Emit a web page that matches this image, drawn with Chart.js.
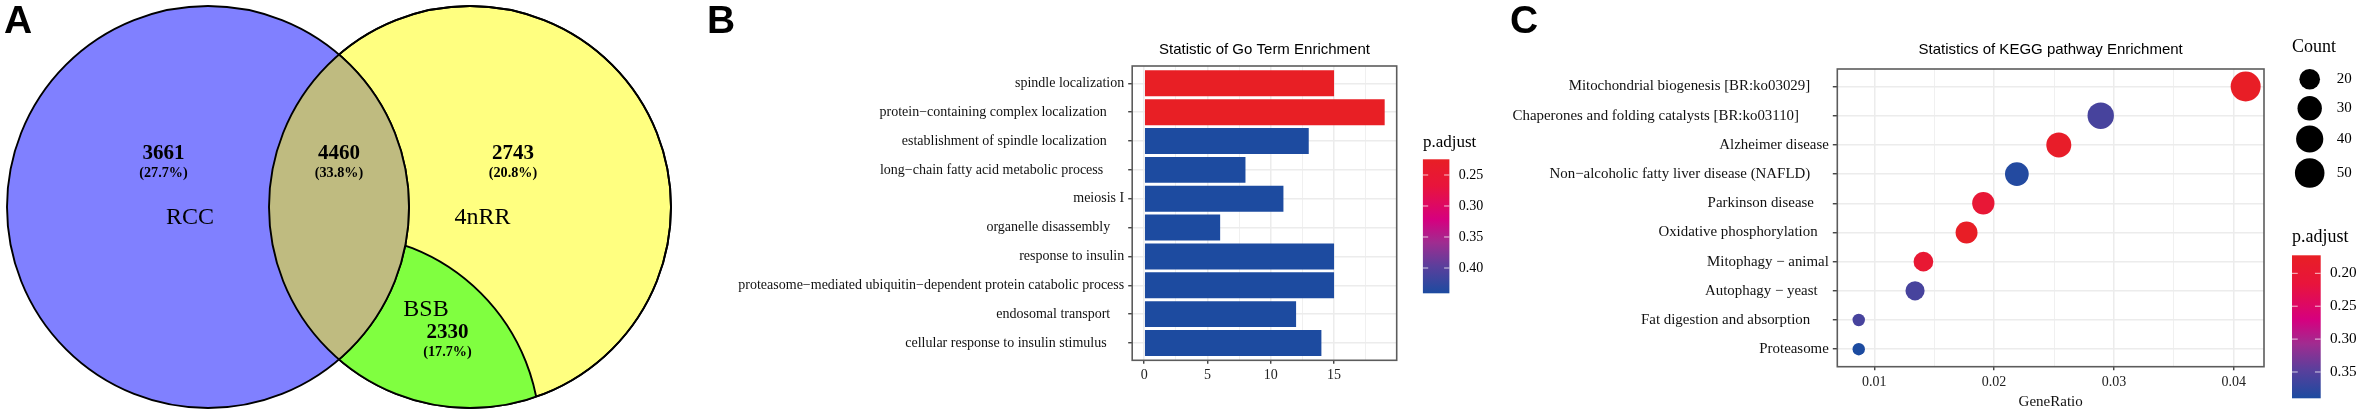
<!DOCTYPE html>
<html lang="en">
<head>
<meta charset="UTF-8">
<title>RCC, 4nRR and BSB enrichment</title>
<script src="https://cdn.jsdelivr.net/npm/chart.js@4"></script>
<style>
    body { margin: 0; background: #fff; width: 2360px; height: 420px; overflow: hidden; position: relative; }
    canvas { position: absolute; top: 0; left: 0; }
    .panel { position: absolute; top: 0; height: 420px; }
    .letter { position: absolute; top: -3px; font: bold 39px "Liberation Sans", Arial, sans-serif; color: #000; line-height: 45px; z-index: 2; }
</style>
</head>
<body>
<div class="letter" style="left:4px">A</div>
<div class="letter" style="left:707px">B</div>
<div class="letter" style="left:1510px">C</div>
<div class="panel" style="left:0;width:690px"><canvas id="venn" width="690" height="420"></canvas></div>
<div class="panel" style="left:700px;width:800px"><canvas id="go" width="800" height="420"></canvas></div>
<div class="panel" style="left:1500px;width:860px"><canvas id="kegg" width="860" height="420"></canvas></div>

<script>
// Panel A
const vennNames = ["RCC", "4nRR", "BSB"];
const vennRegions = ["RCC only", "RCC and 4nRR", "4nRR only", "BSB"];
const vennCounts = [3661, 4460, 2743, 2330];
const vennPercents = ["27.7%", "33.8%", "20.8%", "17.7%"];

// Panel B
const goTerms = [
  "spindle localization",
  "protein−containing complex localization",
  "establishment of spindle localization",
  "long−chain fatty acid metabolic process",
  "meiosis I",
  "organelle disassembly",
  "response to insulin",
  "proteasome−mediated ubiquitin−dependent protein catabolic process",
  "endosomal transport",
  "cellular response to insulin stimulus"
];
const goCounts = [15, 19, 13, 8, 11, 6, 15, 15, 12, 14];
const goPadjust = [0.225, 0.225, 0.44, 0.44, 0.44, 0.44, 0.44, 0.44, 0.44, 0.44];
const goXTicks = [0, 5, 10, 15];
const goXMinor = [2.5, 7.5, 12.5, 17.5];
const goPTicks = [0.25, 0.30, 0.35, 0.40];

// Panel C
const keggTerms = [
  "Mitochondrial biogenesis [BR:ko03029]",
  "Chaperones and folding catalysts [BR:ko03110]",
  "Alzheimer disease",
  "Non−alcoholic fatty liver disease (NAFLD)",
  "Parkinson disease",
  "Oxidative phosphorylation",
  "Mitophagy − animal",
  "Autophagy − yeast",
  "Fat digestion and absorption",
  "Proteasome"
];
const keggRatio = [0.041, 0.0289, 0.0254, 0.0219, 0.0191, 0.0177, 0.0141, 0.0134, 0.0087, 0.0087];
const keggCount = [52, 37, 32, 28, 24, 23, 18, 17, 11, 11];
const keggPadjust = [0.175, 0.36, 0.18, 0.385, 0.205, 0.175, 0.20, 0.36, 0.36, 0.39];
const keggXTicks = [0.01, 0.02, 0.03, 0.04];
const keggXMinor = [0.015, 0.025, 0.035];
const keggPTicks = [0.20, 0.25, 0.30, 0.35];
const countTicks = [20, 30, 40, 50];

const SERIF = '"Liberation Serif", "Times New Roman", serif';
const SANS = '"Liberation Sans", Arial, sans-serif';

// red -> magenta -> blue ramp shared by bars, dots and colour bars
const ramp = [[0, "#E81F25"], [0.2, "#E8143C"], [0.45, "#D6007F"], [0.62, "#A02C90"], [0.8, "#5A3F9C"], [1, "#1C4BA0"]];

function hex(c) {
  return [1, 3, 5].map(i => parseInt(c.substr(i, 2), 16));
}

function rampColor(p, min, max) {
  const t = Math.min(1, Math.max(0, (p - min) / (max - min)));
  for (let i = 1; i < ramp.length; i++) {
    if (t <= ramp[i][0]) {
      const f = (t - ramp[i - 1][0]) / (ramp[i][0] - ramp[i - 1][0]);
      const a = hex(ramp[i - 1][1]), b = hex(ramp[i][1]);
      return "rgb(" + a.map((v, k) => Math.round(v + (b[k] - v) * f)).join(",") + ")";
    }
  }
  return ramp[ramp.length - 1][1];
}

function text(ctx, str, x, y, font, align) {
  ctx.font = font;
  ctx.textAlign = align || "center";
  ctx.textBaseline = "middle";
  ctx.fillStyle = "#000";
  ctx.fillText(str, x, y);
}

function drawFrame(chart) {
  const a = chart.chartArea, ctx = chart.ctx;
  ctx.save();
  ctx.strokeStyle = "#5c5c5c";
  ctx.lineWidth = 1.6;
  ctx.strokeRect(a.left, a.top, a.right - a.left, a.bottom - a.top);
  ctx.restore();
}

function drawColorbar(ctx, c) {
  const g = ctx.createLinearGradient(0, c.y, 0, c.y + c.h);
  ramp.forEach(s => g.addColorStop(s[0], s[1]));
  ctx.save();
  ctx.fillStyle = g;
  ctx.fillRect(c.x, c.y, c.w, c.h);
  ctx.strokeStyle = "rgba(255,255,255,0.75)";
  ctx.lineWidth = 1;
  c.ticks.forEach(v => {
    const y = c.y + (v - c.min) / (c.max - c.min) * c.h;
    ctx.beginPath();
    ctx.moveTo(c.x, y); ctx.lineTo(c.x + c.w * 0.2, y);
    ctx.moveTo(c.x + c.w * 0.8, y); ctx.lineTo(c.x + c.w, y);
    ctx.stroke();
    text(ctx, v.toFixed(2), c.labelX, y, c.font, "left");
  });
  text(ctx, "p.adjust", c.x, c.titleY, c.titleFont, "left");
  ctx.restore();
}

function valueAxis(min, max, ticks, minor, digits, height, tick, font, pad) {
  return {
    type: "linear", min, max, offset: false,
    border: { display: false },
    afterBuildTicks: s => {
      s.ticks = ticks.map(v => ({ value: v, major: true })).concat(minor.map(v => ({ value: v, major: false })));
    },
    afterFit: s => { s.height = height; },
    grid: {
      offset: false,
      color: "#ECECEC",
      lineWidth: c => (c.tick && c.tick.major ? 1.5 : 0.8),
      tickColor: c => (c.tick && c.tick.major ? "#333" : "rgba(0,0,0,0)"),
      tickWidth: 1.3,
      tickLength: tick
    },
    ticks: {
      autoSkip: false, maxRotation: 0, color: "#222", padding: pad,
      font: { family: SERIF, size: font },
      callback: function (v) { return ticks.includes(v) ? v.toFixed(digits) : ""; }
    }
  };
}

function termAxis(terms, gaps, width, tick, font, pad) {
  return {
    type: "linear", min: -0.6, max: terms.length - 0.4, reverse: true, offset: false,
    border: { display: false },
    afterBuildTicks: s => { s.ticks = terms.map((t, i) => ({ value: i })); },
    afterFit: s => { s.width = width; },
    grid: { offset: false, color: "#ECECEC", lineWidth: 1.5, tickColor: "#333", tickWidth: 1.3, tickLength: tick },
    ticks: {
      autoSkip: false, color: "#111", padding: pad,
      font: { family: SERIF, size: font },
      // some labels sit further from the axis in the original, they carry trailing blanks
      callback: v => terms[v] + " ".repeat(gaps[v])
    }
  };
}

// ---- A: venn, three bubbles clipped against each other
const blue = { x: 208, y: 207, r: 201 };
const yellow = { x: 470, y: 207, r: 201 };
const green = { x: 338, y: 436, r: 202 };

function shapePath(ctx, s, chart) {
  ctx.arc(chart.scales.x.getPixelForValue(s.x), chart.scales.y.getPixelForValue(s.y), s.r, 0, Math.PI * 2);
}

const vennPlugin = {
  id: "vennClip",
  beforeDatasetDraw(chart, args) {
    const ctx = chart.ctx, role = chart.data.datasets[args.index].role;
    ctx.save();
    if (role === "green" || role === "lens") {
      ctx.beginPath();
      shapePath(ctx, yellow, chart);
      ctx.clip();
    }
    if (role === "green") {
      ctx.beginPath();
      ctx.rect(0, 0, chart.width, chart.height);
      shapePath(ctx, blue, chart);
      ctx.clip("evenodd");
    }
  },
  afterDatasetDraw(chart) {
    chart.ctx.restore();
  },
  afterDraw(chart) {
    const ctx = chart.ctx, sx = chart.scales.x, sy = chart.scales.y;
    const num = "bold 21px " + SERIF, pct = "bold 14.2px " + SERIF, name = "24px " + SERIF;
    const spots = [[163.5, 154], [339, 154], [513, 154], [447.5, 333]];
    vennCounts.forEach((c, i) => {
      const x = sx.getPixelForValue(spots[i][0]), y = sy.getPixelForValue(spots[i][1]);
      text(ctx, String(c), x, y, num);
      text(ctx, "(" + vennPercents[i] + ")", x, y + 19, pct);
    });
    const nameSpots = [[190, 218], [482.5, 218], [426, 310]];
    vennNames.forEach((n, i) => {
      text(ctx, n, sx.getPixelForValue(nameSpots[i][0]), sy.getPixelForValue(nameSpots[i][1]), name);
    });
  }
};

function vennSet(role, label, s, fill, order) {
  return {
    role, label, order, clip: false,
    data: [{ x: s.x, y: s.y, r: s.r }],
    backgroundColor: fill, borderColor: "#000", borderWidth: 1.9
  };
}

new Chart("venn", {
  type: "bubble",
  data: {
    datasets: [
      vennSet("yellow", vennRegions[2], yellow, "#FFFF80", 5),
      vennSet("green", vennRegions[3], green, "#80FF40", 4),
      vennSet("blue", vennRegions[0], blue, "#8080FF", 3),
      vennSet("lens", vennRegions[1], blue, "#BFBB80", 2),
      vennSet("outline", "outline", yellow, "rgba(0,0,0,0)", 1)
    ]
  },
  options: {
    responsive: false, animation: false,
    layout: { padding: 0, autoPadding: false },
    plugins: { legend: { display: false }, tooltip: { enabled: false } },
    scales: {
      x: { type: "linear", min: 0, max: 690, display: false },
      y: { type: "linear", min: 0, max: 420, reverse: true, display: false }
    }
  },
  plugins: [vennPlugin]
});

// ---- B: horizontal bars
const goGaps = [0, 5, 5, 6, 0, 4, 0, 0, 4, 5];
const goBar = { min: 0.2247, max: 0.4408 };

new Chart("go", {
  type: "bar",
  data: {
    datasets: [{
      data: goCounts.map((v, i) => ({ x: v, y: i })),
      backgroundColor: goPadjust.map(p => rampColor(p, goBar.min, goBar.max)),
      categoryPercentage: 0.9, barPercentage: 1
    }]
  },
  options: {
    indexAxis: "y", responsive: false, animation: false,
    layout: { padding: { left: 0, right: 103.3, top: 66, bottom: 0 }, autoPadding: false },
    plugins: { legend: { display: false }, tooltip: { enabled: false } },
    scales: {
      x: valueAxis(-0.95, 19.95, goXTicks, goXMinor, 0, 59.7, 3.5, 14, 3),
      y: termAxis(goTerms, goGaps, 432.2, 4, 14, 4)
    }
  },
  plugins: [{
    id: "goExtras",
    afterDraw(chart) {
      drawFrame(chart);
      const a = chart.chartArea;
      text(chart.ctx, "Statistic of Go Term Enrichment", (a.left + a.right) / 2, 50, "15px " + SANS);
      drawColorbar(chart.ctx, {
        x: 722.9, y: 159.3, w: 26.5, h: 134, min: goBar.min, max: goBar.max,
        ticks: goPTicks, labelX: 758.8, titleY: 143, font: "14px " + SERIF, titleFont: "17px " + SERIF
      });
    }
  }]
});

// ---- C: dot plot, radius follows count like ggplot's area scale
const rMin = 6.2, rMax = 15;
const cMin = Math.min(...keggCount), cMax = Math.max(...keggCount);
const sizeFor = c => rMin + (rMax - rMin) * Math.sqrt((c - cMin) / (cMax - cMin));
const keggGaps = [5, 8, 0, 5, 4, 3, 0, 3, 5, 0];
const keggBar = { min: 0.1726, max: 0.39 };

const keggXAxis = valueAxis(0.00691, 0.04253, keggXTicks, keggXMinor, 2, 53.3, 3.5, 14, 4);
keggXAxis.title = { display: true, text: "GeneRatio", color: "#111", padding: { top: 0, bottom: 9 }, font: { family: SERIF, size: 15 } };

new Chart("kegg", {
  type: "bubble",
  data: {
    datasets: [{
      data: keggRatio.map((v, i) => ({ x: v, y: i, r: sizeFor(keggCount[i]) })),
      backgroundColor: keggPadjust.map(p => rampColor(p, keggBar.min, keggBar.max)),
      borderWidth: 0
    }]
  },
  options: {
    responsive: false, animation: false,
    layout: { padding: { left: 0, right: 96, top: 69, bottom: 0 }, autoPadding: false },
    plugins: { legend: { display: false }, tooltip: { enabled: false } },
    scales: {
      x: keggXAxis,
      y: termAxis(keggTerms, keggGaps, 337.3, 4.5, 14.9, 4)
    }
  },
  plugins: [{
    id: "keggExtras",
    afterDatasetsDraw(chart) {
      drawFrame(chart);
      const ctx = chart.ctx, a = chart.chartArea;
      text(ctx, "Statistics of KEGG pathway Enrichment", (a.left + a.right) / 2, 50, "15px " + SANS);
      // size legend
      text(ctx, "Count", 792, 47, "18px " + SERIF, "left");
      const keyY = [79.3, 108.3, 139, 173];
      countTicks.forEach((c, i) => {
        ctx.fillStyle = "#000";
        ctx.beginPath();
        ctx.arc(809.7, keyY[i], sizeFor(c), 0, Math.PI * 2);
        ctx.fill();
        text(ctx, String(c), 836.7, keyY[i], "15px " + SERIF, "left");
      });
      drawColorbar(ctx, {
        x: 792, y: 255.3, w: 28.7, h: 143, min: keggBar.min, max: keggBar.max,
        ticks: keggPTicks, labelX: 830, titleY: 237, font: "15.2px " + SERIF, titleFont: "18px " + SERIF
      });
    }
  }]
});
</script>
</body>
</html>
